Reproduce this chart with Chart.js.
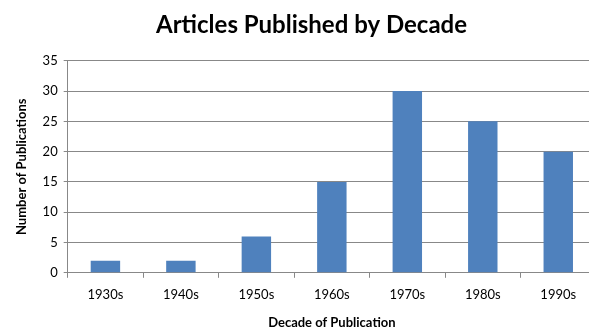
<!DOCTYPE html>
<html>
<head>
<meta charset="utf-8">
<script src="https://cdn.jsdelivr.net/npm/chart.js@4"></script>
<style>
  html, body { margin: 0; padding: 0; background: #fff; overflow: hidden; }
  #wrap { width: 609px; height: 329px; }
</style>
</head>
<body>
<div id="wrap"><canvas id="chart" width="609" height="329"></canvas></div>
<script>
/* ===== DATA ===== */
const decades = ["1930s", "1940s", "1950s", "1960s", "1970s", "1980s", "1990s"];
const publications = [2, 2, 6, 15, 30, 25, 20];
const yTicks = [0, 5, 10, 15, 20, 25, 30, 35];

const FONT = "Lato, 'Open Sans', sans-serif";
const GRID = "#888888";

new Chart(document.getElementById("chart"), {
  type: "bar",
  data: {
    labels: decades,
    datasets: [{
      data: publications,
      backgroundColor: "#4F81BD",
      borderWidth: 0,
      barPercentage: 0.39,
      categoryPercentage: 1
    }]
  },
  options: {
    responsive: false,
    animation: false,
    layout: { padding: { left: 14, right: 0, top: 0, bottom: -2 } },
    plugins: {
      legend: { display: false },
      tooltip: { enabled: false },
      title: {
        display: true,
        text: "Articles Published by Decade",
        color: "#000",
        font: { family: FONT, size: 24, weight: "bold" },
        padding: { top: 11, bottom: 21 }
      }
    },
    scales: {
      x: {
        grid: { display: true, drawOnChartArea: false, drawTicks: true, tickLength: 5, offset: true, color: GRID },
        border: { color: GRID, width: 1 },
        ticks: { color: "#000", font: { family: FONT, size: 13 }, padding: 9 },
        title: {
          display: true,
          text: "Decade of Publication",
          color: "#000",
          font: { family: FONT, size: 13, weight: "bold" },
          padding: { top: 4, bottom: 0 }
        }
      },
      y: {
        min: 0,
        max: 35,
        afterBuildTicks: axis => { axis.ticks = yTicks.map(v => ({ value: v })); },
        grid: { color: GRID, tickLength: 4 },
        border: { color: GRID, width: 1 },
        ticks: { color: "#000", font: { family: FONT, size: 13 }, padding: 6 },
        title: {
          display: true,
          text: "Number of Publications",
          color: "#000",
          font: { family: FONT, size: 13, weight: "bold" },
          padding: { top: 0, bottom: 7 }
        }
      },
      // empty right-hand space so the title centres like the original
      yRight: {
        position: "right",
        display: true,
        grid: { display: false },
        border: { display: false },
        ticks: { display: false },
        afterFit: s => { s.width = 13; }
      }
    }
  }
});
</script>
</body>
</html>
